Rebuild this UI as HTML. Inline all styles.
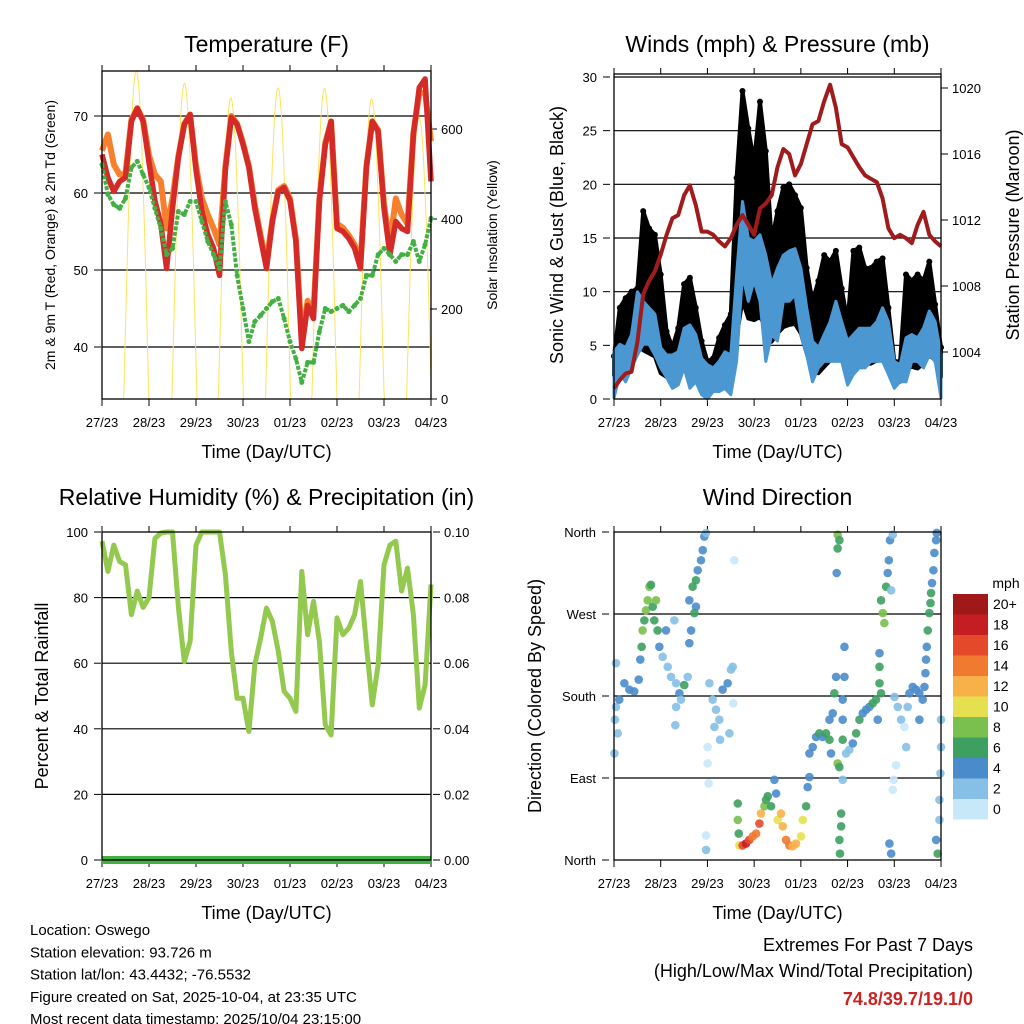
<!DOCTYPE html>
<html><head><meta charset="utf-8"><style>
html,body{margin:0;padding:0;background:#fff;}
svg{display:block;font-family:"Liberation Sans",sans-serif;}
</style></head><body>
<svg id="c" width="1024" height="1024" viewBox="0 0 1024 1024" xmlns="http://www.w3.org/2000/svg"></svg>
<script>
// ---------- DATA (3-hourly, index i => hour 3*i from 27/23) ----------
const dayLabels=["27/23","28/23","29/23","30/23","01/23","02/23","03/23","04/23"];
const tempRed=[65,62,60.2,61.5,62,69.3,71,69.3,64,59,56,50.2,58,64.6,68.9,70.2,63,57.6,54.6,52.8,49.3,63,69.8,68.9,66.3,63.3,58,54.1,50.2,56.3,60.2,60.7,59,53.7,39.8,45.4,43.7,59,66.3,69.3,55.4,55,54.1,52.8,50.2,63.3,69.3,68,58,52,56.3,55.4,55,67.6,73.7,74.8,61.5];
const tempOrange=[65.5,67.6,63.7,62.4,62.5,69.5,71,69.5,64.9,62.4,61.5,55.4,59.3,64.8,69,70.2,63.5,59.3,57.2,55.4,53.3,63.5,70,69,66.5,63.5,58.5,54.5,51,56.5,60.4,60.9,59.3,54,41,46,44.5,59.3,66.5,69.3,56,55.5,54.5,53.3,51,63.5,69.3,68.2,58.5,53.3,59.3,57.2,56,67.8,73,73,66.7];
const dewGreen=[63.7,59.8,58.5,58,59.3,63.3,64.1,62.4,60.7,58,55.4,52,52.8,57.6,57.2,58.9,58.9,56.3,53.7,52,50.2,58.9,55.9,49.3,45,40.7,43.3,44.1,45,45.9,46.3,43.7,40.7,38.5,35.4,38,38,42,45,44.6,45,45.4,44.6,45.4,46.3,49.3,49.3,52,52.8,52,51.1,52,52,53.7,51.1,53.3,56.7];
const solarPeaks=[729,702,669,691,690,667,627];
const solarNoonHours=[17.5,42.1,65.8,89.9,113.6,137.7,161.9];
const pressure=[1001.8,1002.3,1002.7,1002.8,1004.6,1007.5,1008.3,1008.9,1009.9,1011.1,1012.1,1012.3,1013.5,1014.1,1012.9,1011.3,1011.3,1011.1,1010.7,1010.4,1010.9,1011.7,1012.3,1011.7,1011.1,1012.7,1013,1013.5,1015.2,1016.3,1016,1014.7,1015.4,1016.6,1017.8,1018,1019.2,1020.2,1018.8,1016.6,1016.4,1015.8,1015.2,1014.7,1014.5,1014.3,1013.3,1011.5,1010.9,1011.1,1010.9,1010.6,1011.7,1012.5,1011.1,1010.7,1010.4];
const windHigh=[4.4,5.1,4.8,6,10,9.1,8.5,7.9,4.8,4.1,4.1,4.4,6.6,6.9,6,3.8,3.2,2.9,3.5,4.4,4.1,11.6,18.4,15,14.7,15.3,13.4,10.7,12.2,13.4,13.8,14,12.2,8.5,5.4,4.8,6,7.2,9.1,7.2,5.4,6,6.6,6.6,6.6,7.2,8.5,7.2,3.5,3.2,5.7,6,5.7,6.6,8.2,7.2,4.1];
const windLow=[0.1,2.3,1.6,2.9,4.1,5.1,5.1,4.1,2.9,2,1,1.3,2.9,1,1.6,0.4,0,0.7,0.7,1,0.4,3.5,11.6,9.1,11,9.1,3.5,6,5.4,9.1,9.1,9.7,6,4.1,1.6,2.9,3.5,3.5,3.5,3.5,1.3,2.3,2.9,2.9,3.5,3.5,3.5,2.3,1,1.6,1.6,3.5,3.5,2.9,4.1,3.5,0.1];
const gust=[4,8.5,9.4,10,10.3,17.5,15.9,15.3,11.6,6.3,4.8,6.6,10.7,11.3,8.5,5.4,3.5,3.8,5.7,6.9,7.9,20.6,28.7,25.2,22.1,27.7,23.1,14.7,17.5,19.7,20,19,17.8,12.2,9.1,11,13.4,12.8,13.8,10.3,7.2,13.8,14.1,12.2,12.2,12.8,13.1,8.5,3.5,3.5,11.6,11,11.6,11,12.8,8.8,4.8];
const rh=[97.2,88,96,91,90,74.8,82,77,80,98,99.7,100,100,77,60.5,66.6,96,100,100,100,100,87,63.6,49.3,49.3,39.2,59.5,67.6,76.8,72.7,63.6,51.4,49.3,45.3,88,68.7,78.8,66.6,41.2,38.1,73.8,68.7,70.7,74.8,84.9,65.6,47.3,59.5,90,96,97.2,82,89,74.8,46.3,53.4,84];
const precip=[0,0,0,0,0,0,0,0,0,0,0,0,0,0,0,0,0,0,0,0,0,0,0,0,0,0,0,0,0,0,0,0,0,0,0,0,0,0,0,0,0,0,0,0,0,0,0,0,0,0,0,0,0,0,0,0,0];
const dirHours=[0.5,1,2.7,5.3,7.9,10.4,12.7,0.2,1,1.9,13.5,14.2,14.7,15.6,16.4,17.3,18.2,19,19.9,20.7,21.6,22.4,23.3,25,26.7,27.6,29.3,31,31.9,33.6,36.1,37.9,31.9,31.5,34.4,38.7,39.6,38.7,40.4,42.1,43,44.7,45.6,46.4,47.3,42.1,41.3,49,50.7,52.4,54.1,55.8,58.4,60.1,61,51.6,54.5,48.1,48.1,48.6,47.3,47.3,59.3,61.8,61.3,63.6,63.6,64.1,64.4,66.1,67.8,69.5,71.3,73,74.7,75.5,77.3,78.1,79,80.7,82.4,83.3,84.1,85.8,86.7,88.4,90.1,91.8,93.5,96.1,97,98.7,99.5,100.4,100.4,102.1,103.8,105.5,107.2,108.9,110.7,111.5,110.7,112.4,113.2,114.1,114.9,115.8,116.7,116.7,115.8,116.1,118.4,118.4,117.5,117.5,117.5,117.5,119.2,120.9,122.7,124.4,126.1,127.8,129.5,131.2,132.9,134.6,135.5,136.4,136.4,136.4,137.2,114.9,115.8,114.9,114.4,137.2,138.1,138.9,139.8,140.6,141.2,141.8,143.2,142.4,144.1,145.8,147.5,149.2,150.1,144.9,143.7,143.2,141.5,142.4,151.8,153.5,155.2,156.9,158.6,159.5,156.9,150.9,160,160.3,160.7,161.2,162,162.6,162.9,163.4,164.1,164.6,165.5,165.8,168,168,167.7,167.2,167.2,165.5,166.3];
const dirDeg=[154,168,176,194,187,185,198,117,216,139,220,234,252,263,274,285,300,302,278,263,285,252,234,223,252,212,201,263,194,183,192,201,168,148,176,238,252,285,300,307,318,329,340,355,359,278,271,194,176,165,154,187,194,209,212,146,132,124,106,84,27,11,139,329,172,62,44,29,16,16,18,22,26,29,40,51,59,66,70,59,88,73,44,51,37,22,16,15,18,26,44,59,80,91,117,124,135,139,135,139,132,117,154,161,183,201,106,102,51,37,22,7,201,234,176,154,132,88,117,121,128,139,154,161,165,168,172,176,154,212,227,194,183,357,351,342,315,285,271,260,300,315,329,351,357,296,179,168,154,146,124,104,88,77,18,7,183,190,187,183,176,190,154,168,205,220,234,252,271,282,293,304,318,337,351,359,154,124,95,66,44,22,7];
const dirSpeed=[2,2,4,4,4,4,4,2,2,2,4,6,8,6,8,8,8,6,6,6,8,6,4,2,4,2,2,2,2,4,6,2,2,2,2,4,4,4,6,6,4,4,4,4,2,4,6,2,2,2,2,4,4,2,2,2,2,0,0,0,0,2,2,0,0,6,8,6,10,16,18,16,14,14,16,12,8,6,6,6,4,4,10,12,12,14,14,12,12,10,10,6,4,4,4,4,4,6,4,6,6,4,4,4,6,4,8,6,6,6,6,6,4,4,4,4,6,2,2,2,4,6,6,4,4,4,6,6,4,6,4,6,6,8,6,6,4,6,8,8,6,4,4,4,2,2,2,2,2,0,2,0,0,0,4,4,4,4,4,4,4,4,4,2,4,4,4,6,6,6,6,4,4,4,4,4,2,2,2,2,2,4,6];
const speedBins=[0,2,4,6,8,10,12,14,16,18,20];
const speedLabels=["0","2","4","6","8","10","12","14","16","18","20+"];
const speedColors=["#c6e8f8","#86c0e6","#4a8ccb","#3ea060","#7ac04e","#e6e050","#f8b048","#f07a30","#e44a2a","#c41e22","#a01818"];
const rhTicks=[0,20,40,60,80,100];
const precipTicks=["0.00","0.02","0.04","0.06","0.08","0.10"];

// ---------- helpers ----------
const svg=document.getElementById('c');
const NS="http://www.w3.org/2000/svg";
function mk(tag,attrs,parent){const e=document.createElementNS(NS,tag);for(const k in attrs)e.setAttribute(k,attrs[k]);(parent||svg).appendChild(e);return e;}
function txt(s,x,y,size,anchor,extra){const t=mk('text',Object.assign({x:x,y:y,'font-size':size,'text-anchor':anchor||'middle',fill:'#000'},extra||{}));t.textContent=s;return t;}
function lin(d0,d1,r0,r1){return v=>r0+(v-d0)*(r1-r0)/(d1-d0);}
function hours(i){return i*3;}

const P1={l:102,r:431,t:71,b:399}, P2={l:614,r:941,t:74,b:399}, P3={l:102,r:431,t:532,b:860}, P4={l:614,r:941,t:532,b:860};
function xAxisH(P){return lin(0,168,P.l,P.r);}

function frame(P,name,titleStr,titleY){
  const g=mk('g',{});
  
  
  const fx=xAxisH(P);
  dayLabels.forEach((d,k)=>{
    const x=fx(k*24);
    const tk=mk('line',{x1:x,x2:x,y1:P.b,y2:P.b+7,stroke:'#000','stroke-width':1},g);
    
    mk('line',{x1:x,x2:x,y1:P.t,y2:P.t-6,stroke:'#000','stroke-width':1},g);
    const t=txt(d,x,P.b+28,13,'middle');g.appendChild(t);
    
    
  });
  const xt=txt('Time (Day/UTC)',(P.l+P.r)/2,P.b+59,18,'middle');g.appendChild(xt);
  
  
  const tt=txt(titleStr,(P.l+P.r)/2,titleY,23,'middle');g.appendChild(tt);
  
  
  return g;
}
function border(P){const b=mk('rect',{x:P.l,y:P.t,width:P.r-P.l,height:P.b-P.t,fill:'none',stroke:'#000','stroke-width':1.3});}
function hgrid(P,y){
  const l=mk('line',{x1:P.l,x2:P.r,y1:y,y2:y,stroke:'#000','stroke-width':1.2});
  
  
}
function ytickLabel(s,x,y,anchor,name){const t=txt(s,x,y+5,13,anchor);mk('line',{x1:anchor==='end'?x+6:x-11,x2:anchor==='end'?x+13:x-4,y1:y,y2:y,stroke:'#000'});}
function rotText(s,x,y,size,name){const t=txt(s,0,0,size,'middle',{transform:`translate(${x},${y}) rotate(-90)`});}
function pathFrom(arrX,arrY){return arrX.map((x,k)=>(k?'L':'M')+x.toFixed(1)+','+arrY[k].toFixed(1)).join('');}

// ---------- Panel 1 ----------
frame(P1,'temperature-panel','Temperature (F)',52);
const tY=lin(70,40,116,347), sY=lin(0,600,399,129), x1=xAxisH(P1);
[70,60,50,40].forEach(v=>{hgrid(P1,tY(v));ytickLabel(String(v),88,tY(v),'end','y-tick-label');});
[0,200,400,600].forEach(v=>ytickLabel(String(v),441,sY(v),'start','right-tick-label'));
rotText('2m & 9m T (Red, Orange) & 2m Td (Green)',55,235,14,'y-axis-title');
rotText('Solar Insolation (Yellow)',497,235,14,'right-axis-title');
let sp='';
for(let h=0;h<=168;h+=0.25){let v=0;solarNoonHours.forEach((n,k)=>{const d=(h-n)/6.4;if(Math.abs(d)<1)v=solarPeaks[k]*Math.cos(d*Math.PI/2);});sp+=(h?'L':'M')+x1(h).toFixed(1)+','+sY(v).toFixed(1);}
const solarLine=mk('path',{d:sp,fill:'none',stroke:'#fde35a','stroke-width':1});


const hx=tempRed.map((v,i)=>x1(hours(i)));
const orangeLine=mk('path',{d:pathFrom(hx,tempOrange.map(tY)),fill:'none',stroke:'#f6802e','stroke-width':6,'stroke-linejoin':'round'});


const redLine=mk('path',{d:pathFrom(hx,tempRed.map(tY)),fill:'none',stroke:'#d42a28','stroke-width':5.5,'stroke-linejoin':'round'});


const dewLine=mk('path',{d:pathFrom(hx,dewGreen.map(tY)),fill:'none',stroke:'#44b044','stroke-width':4,'stroke-dasharray':'4 1.5','stroke-linejoin':'round'});


dewGreen.forEach((v,i)=>{
  const c=mk('circle',{cx:hx[i],cy:tY(v),r:2.5,fill:'#44b044'});
  
  
});
border(P1);

// ---------- Panel 2 ----------
frame(P2,'winds-panel','Winds (mph) & Pressure (mb)',52);
const wY=lin(0,30,399,77), pY=lin(1004,1020,352,88), x2=xAxisH(P2);
mk('line',{x1:P2.l,x2:P2.r,y1:74,y2:74,stroke:'#000'});
[0,5,10,15,20,25,30].forEach(v=>{if(v>0)hgrid(P2,wY(v));ytickLabel(String(v),597,wY(v),'end','y-tick-label');});
[1004,1008,1012,1016,1020].forEach(v=>ytickLabel(String(v),952,pY(v),'start','right-tick-label'));
rotText('Sonic Wind & Gust (Blue, Black)',563,235,18,'y-axis-title');
rotText('Station Pressure (Maroon)',1019,235,18,'right-axis-title');
const wx=gust.map((v,i)=>x2(hours(i)));
const gTop=gust.map(wY), gBot=windHigh.map(v=>wY(v*0.5));
const gb=mk('path',{d:pathFrom(wx,gTop)+pathFrom(wx.slice().reverse(),gBot.slice().reverse()).replace('M','L')+'Z',fill:'#000',stroke:'#000','stroke-width':4,'stroke-linejoin':'round'});


gust.forEach((v,i)=>{const c=mk('circle',{cx:wx[i],cy:wY(v),r:3,fill:'#000'});});
const wb=mk('path',{d:pathFrom(wx,windHigh.map(wY))+pathFrom(wx.slice().reverse(),windLow.map(wY).reverse()).replace('M','L')+'Z',fill:'#4a97d2',stroke:'#4a97d2','stroke-width':3,'stroke-linejoin':'round'});


const pl=mk('path',{d:pathFrom(wx,pressure.map(pY)),fill:'none',stroke:'#a01c1c','stroke-width':4,'stroke-linejoin':'round'});


border(P2);

// ---------- Panel 3 ----------
frame(P3,'humidity-panel','Relative Humidity (%) & Precipitation (in)',505);
const rY=lin(0,100,860,532), x3=xAxisH(P3);
rhTicks.forEach((v,k)=>{if(v>0&&v<100)hgrid(P3,rY(v));ytickLabel(String(v),88,rY(v),'end','y-tick-label');ytickLabel(precipTicks[k],444,rY(v),'start','right-tick-label');});
rotText('Percent & Total Rainfall',48,696,18,'y-axis-title');
const rx=rh.map((v,i)=>x3(hours(i)));
const rhl=mk('path',{d:pathFrom(rx,rh.map(rY)),fill:'none',stroke:'#92c94e','stroke-width':5,'stroke-linejoin':'round'});


const prY=lin(0,0.1,860,532);
const prl=mk('path',{d:pathFrom(rx,precip.map(prY)),fill:'none',stroke:'#44b044','stroke-width':8});


border(P3);

// ---------- Panel 4 ----------
frame(P4,'wind-direction-panel','Wind Direction',505);
const dY=lin(0,360,860,532), x4=xAxisH(P4);
[[0,'North'],[90,'East'],[180,'South'],[270,'West'],[360,'North']].forEach(([v,s])=>{if(v>0&&v<360)hgrid(P4,dY(v));ytickLabel(s,596,dY(v),'end','y-tick-label');});
rotText('Direction (Colored By Speed)',541,696,18,'y-axis-title');
function speedColor(s){let k=0;speedBins.forEach((b,j)=>{if(s>=b-1)k=j;});return speedColors[k];}
dirHours.forEach((h,i)=>{
  const c=mk('circle',{cx:x4(h),cy:dY(dirDeg[i]),r:4.3,fill:speedColor(dirSpeed[i]),'fill-opacity':0.9});
  
  
});
border(P4);
const cbTop=594,cbH=20.5;
const cbl=txt('mph',1006,588,14,'middle');
speedColors.slice().reverse().forEach((col,k)=>{
  const r=mk('rect',{x:953,y:cbTop+k*cbH,width:35,height:cbH,fill:col});
  
  
  const t=txt(speedLabels[speedLabels.length-1-k],993,cbTop+k*cbH+15,14,'start');
  
  
});

// ---------- footer ----------
["Location: Oswego","Station elevation: 93.726 m","Station lat/lon: 43.4432; -76.5532","Figure created on Sat, 2025-10-04, at 23:35 UTC","Most recent data timestamp: 2025/10/04 23:15:00"].forEach((s,k)=>{
  const t=txt(s,30,935+k*22.3,15,'start');
  
  
});
const e1=txt('Extremes For Past 7 Days',973,951,18,'end');
const e2=txt('(High/Low/Max Wind/Total Precipitation)',973,977,18,'end');
const e3=txt('74.8/39.7/19.1/0',973,1005,18,'end',{fill:'#cc2222','font-weight':'bold'});
</script>
</body></html>
